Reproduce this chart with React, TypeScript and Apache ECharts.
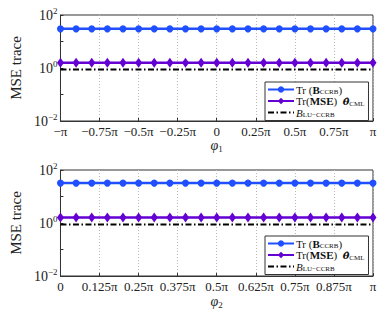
import { useEffect, useRef } from 'react';
import * as echarts from 'echarts';

// ---- data ----
const phi1 = [-1, -0.9, -0.8, -0.7, -0.6, -0.5, -0.4, -0.3, -0.2, -0.1, 0, 0.1, 0.2, 0.3, 0.4, 0.5, 0.6, 0.7, 0.8, 0.9, 1];
const phi2 = [0, 0.05, 0.1, 0.15, 0.2, 0.25, 0.3, 0.35, 0.4, 0.45, 0.5, 0.55, 0.6, 0.65, 0.7, 0.75, 0.8, 0.85, 0.9, 0.95, 1];

const ccrbTop = [30, 30, 30, 30, 30, 30, 30, 30, 30, 30, 30, 30, 30, 30, 30, 30, 30, 30, 30, 30, 30];
const mseTop = [1.58, 1.58, 1.58, 1.58, 1.58, 1.58, 1.58, 1.58, 1.58, 1.58, 1.58, 1.58, 1.58, 1.58, 1.58, 1.58, 1.58, 1.58, 1.58, 1.58, 1.58];
const luTop = [0.88, 0.88, 0.88, 0.88, 0.88, 0.88, 0.88, 0.88, 0.88, 0.88, 0.88, 0.88, 0.88, 0.88, 0.88, 0.88, 0.88, 0.88, 0.88, 0.88, 0.88];

const ccrbBottom = [32, 32, 32, 32, 32, 32, 32, 32, 32, 32, 32, 32, 32, 32, 32, 32, 32, 32, 32, 32, 32];
const mseBottom = [1.6, 1.6, 1.6, 1.6, 1.6, 1.6, 1.6, 1.6, 1.6, 1.6, 1.6, 1.6, 1.6, 1.6, 1.6, 1.6, 1.6, 1.6, 1.6, 1.6, 1.6];
const luBottom = [0.88, 0.88, 0.88, 0.88, 0.88, 0.88, 0.88, 0.88, 0.88, 0.88, 0.88, 0.88, 0.88, 0.88, 0.88, 0.88, 0.88, 0.88, 0.88, 0.88, 0.88];

const xTicksTop = ['\u2212\u03c0', '\u22120.75\u03c0', '\u22120.5\u03c0', '\u22120.25\u03c0', '0', '0.25\u03c0', '0.5\u03c0', '0.75\u03c0', '\u03c0'];
const xTicksBottom = ['0', '0.125\u03c0', '0.25\u03c0', '0.375\u03c0', '0.5\u03c0', '0.625\u03c0', '0.75\u03c0', '0.875\u03c0', '\u03c0'];
const yTickExps = ['\u22122', '\u22121', '0', '1', '2'];

const seriesNames = ['ccrb', 'mse', 'lu'];
const legendLabels: Record<string, string> = {
  ccrb: '{n|Tr (}{b|B}{sub|CCRB}{n|)}',
  mse: '{n|Tr(}{b|MSE}{n|)  }{bi|\u03b8\u0302}{sub|CML}',
  lu: '{i|B}{sub|LU\u2212CCRB}',
};

const FONT = "'Liberation Serif', 'Times New Roman', serif";
const BLUE = '#1f4fff';
const PURPLE = '#6400d2';
const FRAME = '#333333';

export default function App() {
  const ref = useRef<HTMLDivElement>(null);
  useEffect(() => {
    if (!ref.current) return;
    const chart = echarts.init(ref.current, undefined, { renderer: 'svg' });

    const xAxisFor = (grid: number, min: number, interval: number, labels: string[], sub: string, gap: number) => ({
      type: 'value',
      gridIndex: grid,
      min,
      max: 1,
      interval,
      name: `{i|\u03c6}{s|${sub}}`,
      nameLocation: 'middle',
      nameGap: gap,
      nameTextStyle: {
        rich: {
          i: { fontFamily: FONT, fontStyle: 'italic', fontSize: 14, color: '#222', lineHeight: 16 },
          s: { fontFamily: FONT, fontSize: 9, color: '#222', lineHeight: 9, verticalAlign: 'bottom' },
        },
      },
      axisLine: { show: true, onZero: false, lineStyle: { color: FRAME, width: 1 } },
      axisTick: { show: true, inside: true, length: 3, lineStyle: { color: FRAME } },
      axisLabel: {
        margin: 4,
        color: '#222',
        fontFamily: FONT,
        fontSize: 13,
        formatter: (v: number) => labels[Math.round((v - min) / interval)] ?? '',
      },
      splitLine: { show: true, lineStyle: { type: [1, 2], color: '#b8b8b8', width: 1 } },
    });

    const yAxisFor = (grid: number) => ({
      type: 'log',
      gridIndex: grid,
      logBase: 10,
      min: 0.01,
      max: 100,
      name: 'MSE trace',
      nameLocation: 'middle',
      nameGap: 23,
      nameTextStyle: { fontFamily: FONT, fontSize: 15, color: '#222' },
      axisLine: { show: true, onZero: false, lineStyle: { color: FRAME, width: 1 } },
      axisTick: { show: true, inside: true, length: 3, lineStyle: { color: FRAME } },
      axisLabel: {
        margin: 3,
        formatter: (v: number) => {
          const e = Math.round(Math.log10(v));
          if (e % 2 !== 0) return '';
          return `{b|10}{s|${yTickExps[e + 2]}}`;
        },
        rich: {
          b: { fontFamily: FONT, fontSize: 14, color: '#222', lineHeight: 18 },
          s: { fontFamily: FONT, fontSize: 9, color: '#222', lineHeight: 9, verticalAlign: 'top' },
        },
      },
      splitLine: { show: false },
    });

    const seriesFor = (grid: number, xs: number[], c: number[], m: number[], l: number[]) => [
      {
        type: 'line',
        name: 'ccrb',
        xAxisIndex: grid,
        yAxisIndex: grid,
        data: xs.map((x, i) => [x, c[i]]),
        symbol: 'circle',
        symbolSize: 7,
        lineStyle: { color: BLUE, width: 2.5 },
        itemStyle: { color: BLUE },
        z: 3,
      },
      {
        type: 'line',
        name: 'mse',
        xAxisIndex: grid,
        yAxisIndex: grid,
        data: xs.map((x, i) => [x, m[i]]),
        symbol: 'diamond',
        symbolSize: [7, 10],
        lineStyle: { color: PURPLE, width: 2.5 },
        itemStyle: { color: PURPLE },
        z: 3,
      },
      {
        type: 'line',
        name: 'lu',
        xAxisIndex: grid,
        yAxisIndex: grid,
        data: xs.map((x, i) => [x, l[i]]),
        symbol: 'none',
        lineStyle: { color: '#000', width: 2, type: [6, 2.5, 1.5, 2.5] },
        itemStyle: { color: '#000' },
        z: 2,
      },
    ];

    const legendFor = (left: number, top: number) => ({
      data: [
        { name: seriesNames[0] },
        { name: seriesNames[1] },
        { name: seriesNames[2], itemStyle: { opacity: 0 } },
      ],
      orient: 'vertical',
      left,
      top,
      itemWidth: 26,
      itemHeight: 8,
      itemGap: 0,
      padding: [2, 4, 2, 2],
      backgroundColor: '#fff',
      borderColor: FRAME,
      borderWidth: 1,
      borderRadius: 0,
      selectedMode: false,
      formatter: (name: string) => legendLabels[name],
      textStyle: {
        color: '#111',
        fontFamily: FONT,
        fontSize: 11,
        padding: [0, 0, 0, -3],
        rich: {
          n: { fontFamily: FONT, fontSize: 11, color: '#111', lineHeight: 12 },
          b: { fontFamily: FONT, fontSize: 11, fontWeight: 'bold', color: '#111', lineHeight: 12 },
          i: { fontFamily: FONT, fontSize: 11, fontStyle: 'italic', color: '#111', lineHeight: 12 },
          bi: { fontFamily: "'DejaVu Serif', serif", fontSize: 10, fontStyle: 'italic', fontWeight: 'bold', color: '#111', lineHeight: 12 },
          sub: { fontFamily: FONT, fontSize: 7, fontWeight: 'normal', color: '#111', lineHeight: 7, verticalAlign: 'bottom' },
        },
      },
    });

    chart.setOption({
      animation: false,
      backgroundColor: '#fff',
      grid: [
        { left: 40, right: 9, top: 15, height: 106, show: true, borderColor: FRAME, borderWidth: 1, backgroundColor: '#fff' },
        { left: 40, right: 9, top: 170, height: 106, show: true, borderColor: FRAME, borderWidth: 1, backgroundColor: '#fff' },
      ],
      xAxis: [xAxisFor(0, -1, 0.25, xTicksTop, '1', 15), xAxisFor(1, 0, 0.125, xTicksBottom, '2', 17)],
      yAxis: [yAxisFor(0), yAxisFor(1)],
      legend: [legendFor(265, 82), legendFor(265, 236)],
      series: [
        ...seriesFor(0, phi1, ccrbTop, mseTop, luTop),
        ...seriesFor(1, phi2, ccrbBottom, mseBottom, luBottom),
      ],
    });
    return () => chart.dispose();
  }, []);
  return <div ref={ref} style={{ position: 'absolute', left: 0, top: 0, width: 382, height: 311 }} />;
}
